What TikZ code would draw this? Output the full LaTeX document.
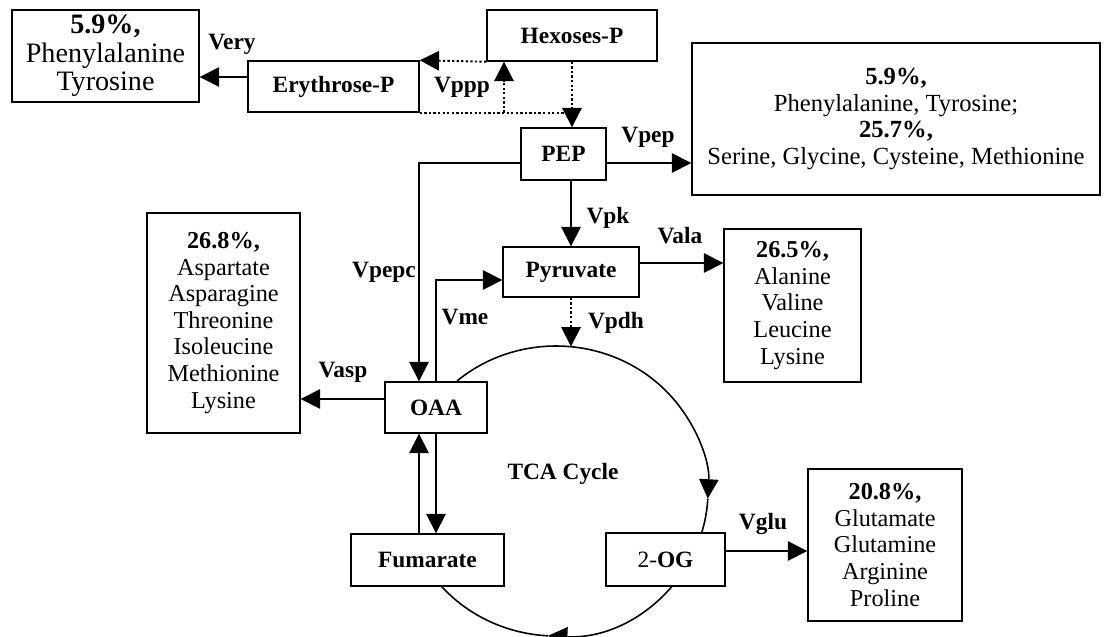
\documentclass[tikz,border=0pt]{standalone}
\usepackage{fontspec}
\setmainfont{Liberation Serif}
\usetikzlibrary{positioning, arrows.meta, calc}

\begin{document}
\begin{tikzpicture}[
    box/.style={draw, fill=white, line width=0.8pt, inner sep=0pt, font=\bfseries\fontsize{13.3}{15}\selectfont},
    outbox/.style={draw, fill=white, line width=0.8pt, inner sep=0pt, align=center, font=\fontsize{13.8}{15.1}\selectfont},
    lbl/.style={font=\bfseries\fontsize{13.3}{15}\selectfont},
    arr/.style={-{Triangle[length=11pt,width=11pt]}, line width=0.9pt},
    dots/.style={line width=1.1pt, dash pattern=on 1.3pt off 1.3pt}
]
    \useasboundingbox (0,0) rectangle (22.1,-12.72);

    % TCA cycle
    \coordinate (tc) at (11.12,-9.82);
    \draw[arr] (tc) ++(130.6:3.04 and 2.90) arc[start angle=130.6, end angle=-3, x radius=3.04, y radius=2.90];
    \draw[arr] (tc) ++(-3:3.04 and 2.90) arc[start angle=-3, end angle=-93, x radius=3.04, y radius=2.90];
    \draw[line width=0.9pt] (tc) ++(-93:3.04 and 2.90) arc[start angle=-93, end angle=-139.4, x radius=3.04, y radius=2.90];
    \node[lbl] (tca) at (11.26,-9.48) {TCA Cycle};

    % metabolites
    \node[box, minimum width=3.42cm, minimum height=1.02cm] (ery) at (6.67,-1.73) {Erythrose-P};
    \node[box, minimum width=3.40cm, minimum height=1.02cm] (hex) at (11.44,-0.71) {Hexoses-P};
    \node[box, minimum width=1.70cm, minimum height=1.04cm] (pep) at (11.27,-3.08) {PEP};
    \node[box, minimum width=2.72cm, minimum height=1.00cm] (pyr) at (11.42,-5.44) {Pyruvate};
    \node[box, minimum width=2.04cm, minimum height=1.02cm] (oaa) at (8.72,-8.15) {OAA};
    \node[box, minimum width=3.06cm, minimum height=1.04cm] (fum) at (8.55,-11.20) {Fumarate};
    \node[box, minimum width=2.38cm, minimum height=1.06cm] (og) at (13.31,-11.19) {\mdseries 2-\textbf{OG}};

    % amino acid pools
    \node[outbox, minimum width=3.74cm, minimum height=1.84cm, font=\fontsize{16}{16.2}\selectfont] (eryout) at (2.11,-1.12) {\textbf{5.9\%,}\\Phenylalanine\\Tyrosine};
    \node[outbox, minimum width=8.16cm, minimum height=3.04cm, font=\fontsize{14}{15.1}\selectfont] (pepout) at (17.92,-2.38) {\textbf{5.9\%,}\\Phenylalanine, Tyrosine;\\\textbf{25.7\%,}\\Serine, Glycine, Cysteine, Methionine};
    \node[outbox, minimum width=2.74cm, minimum height=3.06cm] (alaout) at (15.85,-6.11) {\textbf{26.5\%,}\\Alanine\\Valine\\Leucine\\Lysine};
    \node[outbox, minimum width=3.06cm, minimum height=4.40cm] (aspout) at (4.47,-6.46) {\textbf{26.8\%,}\\Aspartate\\Asparagine\\Threonine\\Isoleucine\\Methionine\\Lysine};
    \node[outbox, minimum width=3.08cm, minimum height=3.04cm] (gluout) at (17.70,-10.90) {\textbf{20.8\%,}\\Glutamate\\Glutamine\\Arginine\\Proline};

    % fluxes
    \coordinate (vy) at ([yshift=0.19cm]ery.west);
    \draw[arr] (vy) -- (vy -| eryout.east);
    \node[lbl] (very) at (4.64,-0.88) {Very};

    \draw[dots, -{Triangle[length=11pt,width=11pt]}] (hex.south west) -- (ery.north east);
    \draw[dots] (ery.south east) -- (ery.south east -| hex.south);
    \draw[dots, -{Triangle[length=11pt,width=11pt]}] (ery.south east -| 10.08,0) -- (hex.south west -| 10.08,0);
    \draw[dots, -{Triangle[length=11pt,width=11pt]}] (hex.south) -- (hex.south |- pep.north);
    \node[lbl] (vppp) at (9.24,-1.74) {Vppp};

    \coordinate (vpe) at ([yshift=-0.18cm]pep.east);
    \draw[arr] (vpe) -- (vpe -| pepout.west);
    \node[lbl] (vpep) at (12.96,-2.74) {Vpep};

    \coordinate (la) at ([xshift=-0.34cm]oaa.north);
    \coordinate (lb) at ([xshift=-0.34cm]oaa.south);
    \draw[arr] ([yshift=-0.18cm]pep.west) -| (la);
    \node[lbl] (vpepc) at (7.68,-5.44) {Vpepc};

    \draw[arr] (pep.south -| pyr.north) -- (pyr.north);
    \node[lbl] (vpk) at (12.16,-4.36) {Vpk};

    \coordinate (vm) at ([yshift=-0.16cm]pyr.west);
    \draw[arr] (oaa.north) |- (vm);
    \node[lbl] (vme) at (9.30,-6.34) {Vme};

    \draw[dots, -{Triangle[length=11pt,width=11pt]}] (pyr.south) -- (pyr.south |- 0,-6.93);
    \node[lbl] (vpdh) at (12.32,-6.46) {Vpdh};

    \coordinate (va) at ([yshift=0.18cm]pyr.east);
    \draw[arr] (va) -- (va -| alaout.west);
    \node[lbl] (vala) at (13.60,-4.72) {Vala};

    \coordinate (vs) at ([yshift=0.17cm]oaa.west);
    \draw[arr] (vs) -- (vs -| aspout.east);
    \node[lbl] (vasp) at (6.86,-7.44) {Vasp};

    \draw[arr] (lb |- fum.north) -- (lb);
    \draw[arr] (oaa.south) -- (oaa.south |- fum.north);

    \coordinate (vg) at ([yshift=0.17cm]og.east);
    \draw[arr] (vg) -- (vg -| gluout.west);
    \node[lbl] (vglu) at (15.26,-10.48) {Vglu};
\end{tikzpicture}
\end{document}
